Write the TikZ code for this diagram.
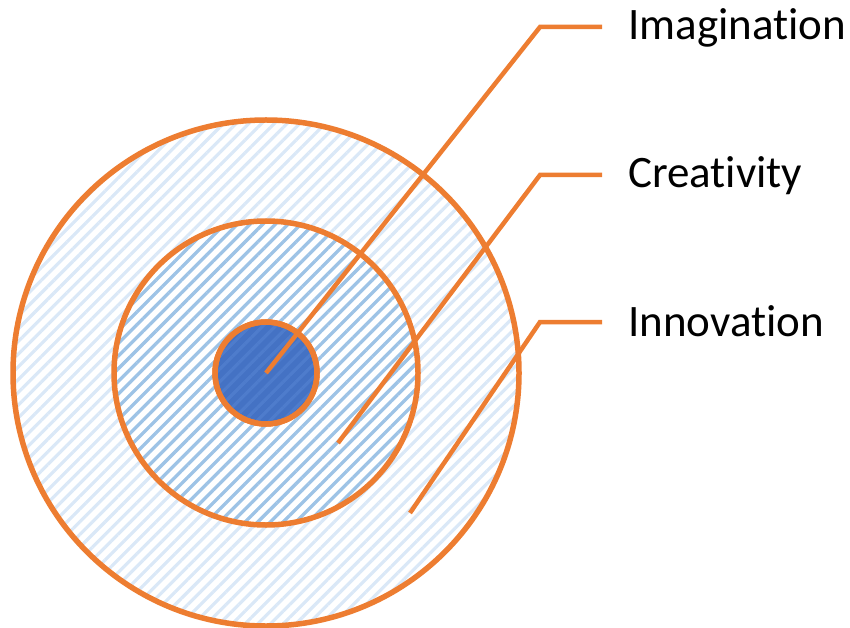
\documentclass[tikz,border=0pt]{standalone}
\usepackage{fontspec}
\setmainfont[Ligatures={NoCommon,NoContextual,NoDiscretionary}]{Carlito}
\usetikzlibrary{patterns.meta}
\definecolor{ringorange}{RGB}{237,125,49}
\definecolor{paleblue}{RGB}{218,232,247}
\definecolor{midblue}{RGB}{157,195,230}
\definecolor{coreblue}{RGB}{68,114,196}
\definecolor{corestripe}{RGB}{78,124,204}
\begin{document}
\begin{tikzpicture}[x=1pt,y=1pt]
\tikzstyle{ring} = [circle, draw=ringorange, line width=5.5pt, inner sep=0pt, outer sep=0pt]
\tikzstyle{leader} = [draw=ringorange, line width=4.5pt]
\tikzstyle{label} = [anchor=base west, inner sep=0pt, font=\fontsize{45}{50}\selectfont]
\useasboundingbox (0,0) rectangle (850,627);
\node[ring, minimum size=506pt, pattern={Lines[angle=45,distance=9pt,line width=3.2pt]}, pattern color=paleblue] (outer) at (266,254) {};
\node[ring, minimum size=304pt, fill=white, pattern={Lines[angle=45,distance=9pt,line width=3.2pt]}, pattern color=midblue] (middle) at (266,254) {};
\node[ring, minimum size=102pt, fill=coreblue] (core) at (266,254) {};
\fill[pattern={Lines[angle=45,distance=9pt,line width=3.2pt]}, pattern color=corestripe] (266,254) circle (48pt);
\draw[ringorange, line width=5.5pt] (core) circle (51pt);
% leader ends
\coordinate (creapt) at (338,184);
\coordinate (innopt) at (410,114);
\coordinate (imabend) at (540,600);
\coordinate (creabend) at (540,452);
\coordinate (innobend) at (540,305);
\coordinate (imaend) at (602,600);
\coordinate (creaend) at (602,452);
\coordinate (innoend) at (602,305);
\node[label] (imagination) at (628,587) {Imagination};
\node[label] (creativity) at (628,439) {Creativity};
\node[label] (innovation) at (628,291) {Innovation};
\path[leader] (core.center) -- (imabend) -- (imaend)
          (creapt) -- (creabend) -- (creaend)
          (innopt) -- (innobend) -- (innoend);
\end{tikzpicture}
\end{document}
